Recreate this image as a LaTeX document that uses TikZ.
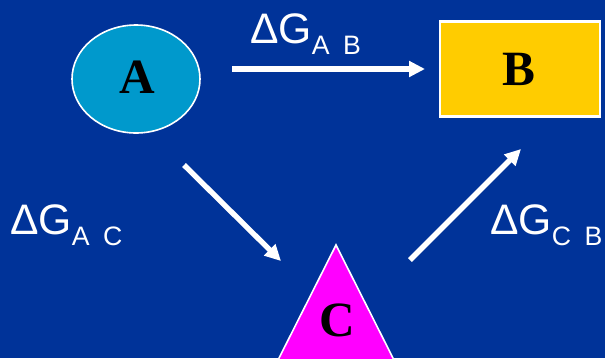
\documentclass[tikz,border=0pt]{standalone}
\usepackage{fontspec}
\setmainfont{Liberation Serif}
\newfontfamily\lblfont{Liberation Sans}
\usetikzlibrary{shapes.geometric,arrows.meta}
\definecolor{bgblue}{RGB}{0,51,153}
\definecolor{acyan}{RGB}{0,153,204}
\definecolor{byellow}{RGB}{255,204,0}
\definecolor{cmagenta}{RGB}{255,0,255}
\tikzset{
  letter/.style={font=\fontsize{37}{37}\selectfont\bfseries, text=black, inner sep=0pt},
  flow/.style={draw=white, line width=4pt, -{Triangle[length=12pt,width=11.5pt]}},
  dglabel/.style={text=white, inner sep=0pt, anchor=base west, font=\lblfont\fontsize{32}{32}\selectfont},
}
\newcommand{\dG}[2]{ΔG\raisebox{-8.5pt}{\fontsize{20}{20}\selectfont #1\hspace{10pt}#2}}
\begin{document}
\begin{tikzpicture}[x=0.75pt,y=-0.75pt]
\useasboundingbox (0,0) rectangle (605,358);
\fill[bgblue] (0,0) rectangle (605,358);
\clip (0,0) rectangle (605,358);
% A
\node[ellipse, draw=white, line width=1.2pt, fill=acyan, minimum width=96pt, minimum height=81pt, inner sep=0pt] (Ash) at (136,79) {};
\node[letter] (A) at (137,77) {A};
% B
\node[rectangle, draw=white, line width=2pt, fill=byellow, minimum width=120pt, minimum height=71pt, inner sep=0pt] (Bsh) at (520,69) {};
\node[letter] (B) at (519,69) {B};
% C
\coordinate (Ctop) at (336,245);
\coordinate (Cleft) at (274,368);
\coordinate (Cright) at (398,368);
\draw[white, line width=1.2pt, fill=cmagenta] (Ctop) -- (Cright) -- (Cleft) -- cycle;
\node[letter] (C) at (337,320) {C};
% arrows
\coordinate (ab1) at (232,69);
\coordinate (ab2) at (425,69);
\coordinate (ac1) at (184,165);
\coordinate (ac2) at (281,261);
\coordinate (cb1) at (410,260);
\coordinate (cb2) at (521,149);
\draw[flow] (ab1) -- (ab2);
\draw[flow] (ac1) -- (ac2);
\draw[flow] (cb1) -- (cb2);
% labels
\node[dglabel] (lab) at (250,43) {\dG{A}{B}};
\node[dglabel] (lac) at (10,234) {\dG{A}{C}};
\node[dglabel] (lcb) at (490,234) {\dG{C}{B}};
\end{tikzpicture}
\end{document}
